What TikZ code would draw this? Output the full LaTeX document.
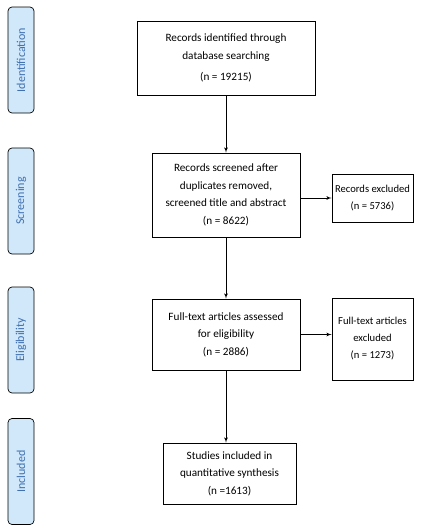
\documentclass[tikz,border=0pt]{standalone}
\usepackage{fontspec}
\setmainfont{Carlito}
\usepackage{tikz}
\usetikzlibrary{arrows}
\definecolor{phasefill}{RGB}{208,232,250}
\definecolor{phasetext}{RGB}{64,112,176}

\begin{document}
\begin{tikzpicture}[x=1pt,y=-1pt]
\tikzset{stage/.style = {shape=rectangle,draw,line width=0.8pt,align=center,inner sep=2pt,
  font=\fontsize{11.2}{17.5}\selectfont}}
\tikzset{side/.style = {stage,font=\fontsize{10.6}{17}\selectfont}}
\tikzset{phase/.style = {shape=rectangle,draw,rounded corners=4pt,fill=phasefill,text=phasetext,
  rotate=90,minimum width=106,minimum height=26,inner sep=0pt,line width=0.7pt,
  font=\fontsize{12}{14}\selectfont}}
\tikzset{edge/.style = {->,> = latex',line width=0.8pt}}
\useasboundingbox (0,0) rectangle (442,530);
% phases
\node[phase] (pid) at (21,60) {Identification};
\node[phase] (pscr) at (21,201) {Screening};
\node[phase] (pelig) at (21,340) {Eligibility};
\node[phase] (pincl) at (21,471.5) {Included};
% boxes
\node[stage,minimum width=178,minimum height=74] (found) at (226,58)
  {Records identified through\\database searching\\[4pt](n = 19215)};
\node[stage,minimum width=148,minimum height=84] (screened) at (226,195)
  {Records screened after\\duplicates removed,\\screened title and abstract\\(n = 8622)};
\node[side,minimum width=81,minimum height=48] (excl) at (372.5,198)
  {Records excluded\\(n = 5736)};
\node[stage,minimum width=148,minimum height=71] (assessed) at (226,334.5)
  {Full-text articles assessed\\for eligibility\\(n = 2886)};
\node[side,minimum width=81,minimum height=82] (ftexcl) at (372.5,339)
  {Full-text articles\\excluded\\(n = 1273)};
\node[stage,minimum width=133,minimum height=61] (included) at (229.5,473.5)
  {Studies included in\\quantitative synthesis\\(n =1613)};
%edges
\draw[edge] (found) to (screened);
\draw[edge] (excl.west -| screened.east) to (excl.west);
\draw[edge] (screened) to (assessed);
\draw[edge] (assessed.east) to (assessed.east -| ftexcl.west);
\draw[edge] (assessed.south) to (assessed.south |- included.north);
\end{tikzpicture}
\end{document}
